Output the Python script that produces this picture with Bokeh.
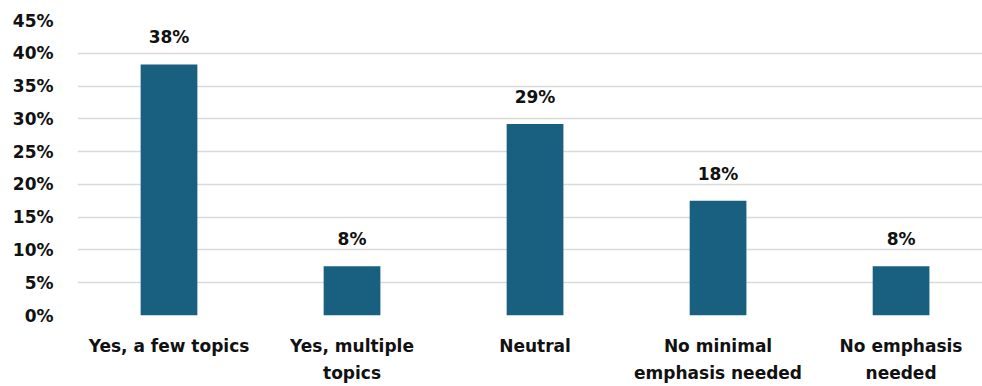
from bokeh.plotting import figure
from bokeh.models import ColumnDataSource, LabelSet, NumeralTickFormatter, FixedTicker, Range1d
from bokeh.core.properties import value
from bokeh.embed import file_html
from bokeh.resources import INLINE

categories = ["Yes, a few topics", "Yes, multiple\ntopics", "Neutral",
              "No minimal\nemphasis needed", "No emphasis\nneeded"]
values = [0.383, 0.075, 0.292, 0.175, 0.075]
labels = ["38%", "8%", "29%", "18%", "8%"]
y_ticks = [0, 0.05, 0.10, 0.15, 0.20, 0.25, 0.30, 0.35, 0.40, 0.45]

FONT = "DejaVu Sans"
xpos = [i + 0.5 for i in range(len(categories))]
src = ColumnDataSource(dict(x=xpos, val=values, lab=labels))

# plot area of the original is cut at the right edge of the image
p = figure(x_range=Range1d(0, 4.945), y_range=(0, 0.45), width=982, height=386,
           output_backend="svg", toolbar_location=None,
           min_border_left=77, min_border_right=0, min_border_top=20, min_border_bottom=71)
p.outline_line_color = None

p.vbar(x="x", top="val", width=0.31, source=src, fill_color="#185F80", line_color=None)

p.add_layout(LabelSet(x="x", y="val", text="lab", source=src, y_offset=17,
                      text_align="center", text_baseline="bottom",
                      text_font=value(FONT), text_font_style="bold",
                      text_font_size="17px", text_color="#111111"))

p.xaxis.ticker = FixedTicker(ticks=xpos)
p.xaxis.major_label_overrides = {x: c for x, c in zip(xpos, categories)}
p.yaxis.ticker = FixedTicker(ticks=y_ticks)
p.yaxis.formatter = NumeralTickFormatter(format="0%")
for ax in (p.xaxis[0], p.yaxis[0]):
    ax.axis_line_color = None
    ax.major_tick_line_color = None
    ax.minor_tick_line_color = None
    ax.major_label_text_font = FONT
    ax.major_label_text_font_style = "bold"
    ax.major_label_text_font_size = "17px"
    ax.major_label_text_color = "#111111"
p.yaxis.major_label_standoff = 18
p.xaxis.major_label_standoff = 14
p.xaxis.major_label_text_line_height = 1.35
p.xgrid.grid_line_color = None
p.ygrid.ticker = FixedTicker(ticks=y_ticks)
p.ygrid.grid_line_color = "#D9D9D9"
p.ygrid.grid_line_width = 1.5

open("out.html", "w").write(file_html(p, INLINE))
